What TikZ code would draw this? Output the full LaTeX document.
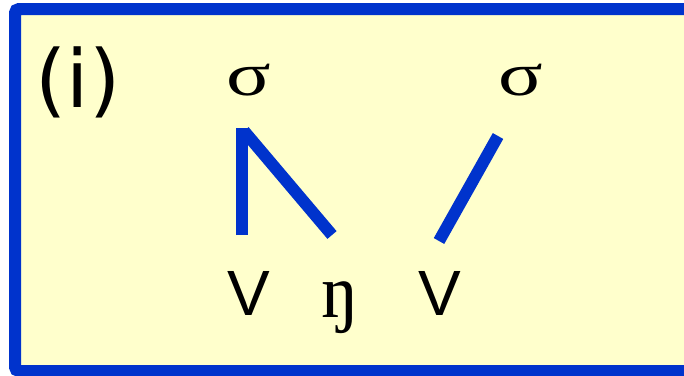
\documentclass[tikz,border=0pt]{standalone}
\usepackage{fontspec}
\setmainfont{Liberation Serif}
\newfontfamily\labsans{Liberation Sans}
\newfontfamily\labdv{DejaVu Sans}
\definecolor{panelyellow}{HTML}{FFFFCC}
\definecolor{framblue}{HTML}{0033CC}
\tikzset{
  frameline/.style={draw=framblue, line width=9pt, rounded corners=3pt},
  assoc/.style={draw=framblue, line width=9pt, line cap=butt},
  sans/.style={inner sep=0pt, anchor=base, font=\labsans\fontsize{48}{48}\selectfont},
  bigsans/.style={inner sep=0pt, anchor=base, font=\labdv\fontsize{60}{60}\selectfont},
  sig/.style={inner sep=0pt, anchor=base, font=\fontsize{46}{46}\selectfont},
  ngs/.style={inner sep=0pt, anchor=base, font=\fontsize{57}{57}\selectfont}
}
\begin{document}
\begin{tikzpicture}[x=0.75pt, y=-0.75pt]
\useasboundingbox (0,0) rectangle (684,375);
\fill[white] (0,0) rectangle (684,375);
\fill[panelyellow] (15,9) rectangle (700,371);
\draw[frameline] (700,9) -- (15,9) -- (15,371) -- (700,371);
\node[bigsans] (lab) at (78,107) {(i)};
\node[sig] (s1) at (249,95) {\scalebox{1.35}[1]{σ}};
\node[sig] (s2) at (521,95) {\scalebox{1.35}[1]{σ}};
\node[sans] (v1) at (248.5,315) {V};
\node[ngs] (ng) at (340,317) {ŋ};
\node[sans] (v2) at (440,315) {V};
\coordinate (s1top) at (242,128);
\coordinate (v1end) at (242,235);
\coordinate (s1diag) at (244,131);
\coordinate (ngend) at (332,235);
\coordinate (s2end) at (498,136);
\coordinate (v2end) at (439,241);
\draw[assoc] (v1end) -- (s1top);
\draw[assoc] (s1diag) -- (ngend);
\draw[assoc] (s2end) -- (v2end);
\end{tikzpicture}
\end{document}
